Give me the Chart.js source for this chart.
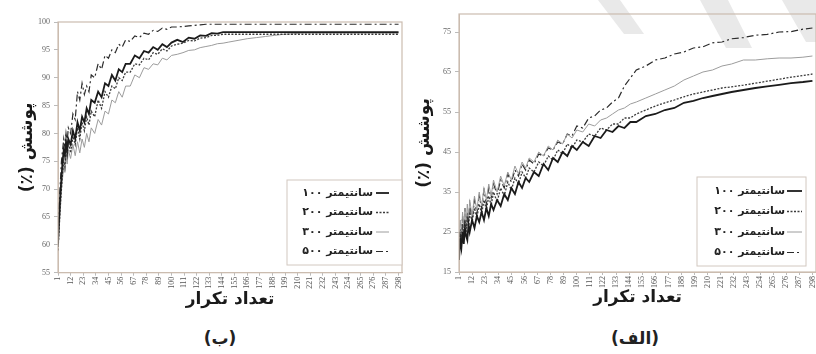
<!DOCTYPE html>
<html>
<head>
<meta charset="utf-8">
<script src="https://cdn.jsdelivr.net/npm/chart.js@4.4.1/dist/chart.umd.min.js"></script>
<style>
  html, body { margin: 0; padding: 0; background: #fff; overflow: hidden; }
  body { width: 816px; height: 354px; position: relative; }
  .panel { position: absolute; top: 0; }
  #panelB { left: 0; }
  #panelA { left: 410px; }
  #marks { position: absolute; left: 0; top: 0; }
  .caption { position: absolute; top: 328px; font: bold 17px "DejaVu Sans"; color: #222; transform: translateX(-50%); white-space: nowrap; }
</style>
</head>
<body>
<!-- faint scan watermark at the top right -->
<svg id="marks" width="816" height="354">
  <polygon points="598,0 620,0 644,34 624,34" fill="#e9e9e9"/>
  <polygon points="700,0 728,0 752,48 726,48" fill="#e9e9e9"/>
  <polygon points="782,0 816,0 816,42 806,42" fill="#e9e9e9"/>
</svg>
<div class="panel" id="panelB"><canvas id="chartB" width="410" height="320"></canvas></div>
<div class="panel" id="panelA"><canvas id="chartA" width="420" height="320"></canvas></div>
<div class="caption" style="left:220px" dir="rtl">(ب)</div>
<div class="caption" style="left:635px" dir="rtl">(الف)</div>
<script>
const iterations = [1, 2, 3, 4, 5, 6, 7, 8, 9, 10,
    12, 14, 16, 18, 20, 22, 24, 26, 28, 30,
    33, 36, 39, 42, 45, 48, 51, 54, 57, 60,
    64, 68, 72, 76, 80, 84, 88, 92, 96, 100,
    105, 110, 115, 120, 125, 130, 135, 140, 145, 150,
    158, 166, 174, 182, 190, 198, 206, 214, 222, 230,
    240, 250, 260, 270, 280, 290, 298];

// x tick labels (every 11 iterations)
const iterationTicks = [1, 12, 23, 34, 45, 56, 67, 78, 89, 100, 111, 122, 133, 144,
    155, 166, 177, 188, 199, 210, 221, 232, 243, 254, 265, 276, 287, 298];

const seriesLabels = ['۱۰۰ سانتیمتر', '۲۰۰ سانتیمتر', '۳۰۰ سانتیمتر', '۵۰۰ سانتیمتر'];

// panel (ب) - coverage %
const coverB100 = [60, 65, 69, 72, 75, 77, 76, 78.5, 77, 79,
    78, 80.5, 79, 82, 80.5, 83, 82, 84.5, 83.5, 86,
    85.5, 87.5, 86.5, 89, 88.5, 90.5, 89.5, 91.5, 91, 92.5,
    92.5, 94, 93.5, 94.8, 94.5, 95.5, 95, 96, 95.5, 96.3,
    96.8, 96.4, 97.2, 97, 97.6, 97.5, 98, 97.9, 98.2, 98.2,
    98.2, 98.2, 98.2, 98.2, 98.2, 98.2, 98.2, 98.2, 98.2, 98.2,
    98.2, 98.2, 98.2, 98.2, 98.2, 98.2, 98.2];
const coverB200 = [59, 63, 67, 70, 73, 75, 74, 77, 76, 78.5,
    76.5, 79.5, 78, 81, 79, 82, 80.5, 83, 81.5, 84,
    83, 86, 84.5, 87.5, 86.5, 88.5, 88, 90, 89.5, 91,
    91, 92.5, 92.3, 93.5, 93.2, 94.5, 94.2, 95.2, 94.8, 95.7,
    96, 96.2, 96.7, 96.6, 97.1, 97.2, 97.6, 97.6, 97.8, 97.8,
    97.8, 97.8, 97.8, 97.8, 97.8, 97.8, 97.8, 97.8, 97.8, 97.8,
    97.8, 97.8, 97.8, 97.8, 97.8, 97.8, 97.8];
const coverB300 = [60, 63, 66, 70, 72, 74, 73, 76, 74.5, 77,
    75.5, 78, 76, 78.5, 76.5, 79, 77.5, 80, 78.5, 81,
    80, 82.5, 81.5, 84, 83.5, 86, 85.5, 87.5, 86.5, 88.5,
    88.5, 90.5, 90, 91.8, 91.5, 92.5, 92.3, 93.5, 93.2, 94,
    94.2, 94.5, 94.9, 95, 95.4, 95.6, 95.8, 96.1, 96.2, 96.4,
    96.7, 97, 97.2, 97.4, 97.6, 97.8, 97.9, 98, 98, 98,
    98, 98, 98, 98, 98, 98, 98];
const coverB500 = [61, 67, 71, 75, 77, 79, 77.5, 80, 78.5, 81,
    80, 83.5, 82.5, 87.5, 86, 89, 87, 88.5, 87.5, 90.5,
    90, 92.5, 91.5, 94, 93.5, 95, 94.5, 96, 95.5, 96.8,
    96.5, 97.5, 97.2, 98, 97.8, 98.5, 98.3, 98.9, 98.7, 99.1,
    99.1, 99.2, 99.3, 99.4, 99.5, 99.6, 99.6, 99.6, 99.6, 99.6,
    99.6, 99.6, 99.6, 99.6, 99.6, 99.6, 99.6, 99.6, 99.6, 99.6,
    99.6, 99.6, 99.6, 99.6, 99.6, 99.6, 99.6];

// panel (الف) - coverage %
const coverA100 = [18, 23, 21, 25, 22, 26, 24, 23, 27, 25,
    28, 26, 29, 27.5, 30, 28, 31, 29, 32, 30.5,
    33, 31.5, 34.5, 33, 36, 34.5, 37.5, 36, 38.5, 37.5,
    40, 39, 42, 40.5, 43.5, 42.5, 45, 44, 46.5, 45.5,
    47.5, 46.5, 49, 48.5, 50.5, 50, 51.5, 51, 52.5, 52.5,
    54, 54.5, 55.5, 56, 57.3, 57.8, 58.5, 59, 59.5, 60,
    60.5, 61, 61.4, 61.8, 62.2, 62.5, 62.8];
const coverA200 = [22, 25, 22, 27, 24, 28, 25, 29, 26, 30,
    27.5, 31, 28.5, 32, 29.5, 33, 30.5, 34, 31.5, 35,
    32.5, 36, 34, 37.5, 35.5, 38.5, 37, 40, 38.5, 41,
    40, 42.5, 41.5, 44, 43, 45.5, 44.5, 47, 46, 48,
    47.5, 49.5, 49, 51, 50.5, 52, 52, 53.5, 53.5, 54.5,
    55.5, 56.5, 57.3, 58, 58.8, 59.5, 60, 60.5, 61, 61.3,
    61.7, 62.2, 62.7, 63.2, 63.7, 64.1, 64.5];
const coverA300 = [25, 28, 24, 30, 26, 31, 27, 32, 28, 33,
    29, 34, 30.5, 35, 31.5, 36, 33, 37, 34, 38,
    35, 39, 36.5, 40, 38, 41.5, 39.5, 42.5, 41, 43.5,
    42.5, 45, 44, 46.5, 45.5, 48, 47, 49.5, 48.5, 50.5,
    50, 52, 51.5, 53, 53.5, 54.5, 55.5, 56, 57, 57.5,
    58.5, 59.5, 60.5, 61.5, 63, 64, 65, 65.5, 66.5, 67,
    68, 68, 68.3, 68.5, 68.5, 68.7, 69];
const coverA500 = [20, 26, 23, 29, 24, 31, 26, 30, 27, 32,
    28, 33, 29.5, 34, 31, 35.5, 32, 36, 33.5, 37,
    34.5, 38, 36, 39.5, 37.5, 40.5, 39, 42, 40.5, 43,
    42, 44.5, 44, 46, 45.5, 47.5, 47, 49.5, 49, 51.5,
    51, 53.5, 54, 55.5, 56, 57.5, 58.5, 61.5, 63.5, 65.5,
    66.5, 68, 68.5, 69.5, 70, 71, 71.3, 72.3, 72.5, 73.3,
    73.6, 74.2, 74.4, 75, 75.1, 75.7, 76];

const yTicksB = [55, 60, 65, 70, 75, 80, 85, 90, 95, 100];
const yTicksA = [15, 25, 35, 45, 55, 65, 75];

// line styles: 100 solid black, 200 dotted, 300 light solid, 500 dash-dot
const lineStyles = [
    { color: '#1b1b1b', width: 1.8, dash: [] },
    { color: '#3c3c3c', width: 1.3, dash: [2, 1.5] },
    { color: '#9c9c9c', width: 1, dash: [] },
    { color: '#2b2b2b', width: 1.2, dash: [7, 3, 2, 3] }
];

const frameColor = '#cbbcb0';
const persianFont = 'DejaVu Sans';

// plot frame + boxed legend inside the plot area
const boxLegend = {
    id: 'boxLegend',
    afterDraw(chart, args, opts) {
        const ctx = chart.ctx;
        const a = chart.chartArea;
        ctx.save();
        ctx.strokeStyle = frameColor;
        ctx.lineWidth = 1.2;
        ctx.strokeRect(a.left, a.top, a.right - a.left, a.bottom - a.top);

        const b = opts.box;
        ctx.fillStyle = '#fff';
        ctx.fillRect(b[0], b[1], b[2] - b[0], b[3] - b[1]);
        ctx.strokeStyle = '#d2c8c0';
        ctx.lineWidth = 1;
        ctx.strokeRect(b[0], b[1], b[2] - b[0], b[3] - b[1]);

        ctx.font = 'bold 11px "' + persianFont + '"';
        ctx.textAlign = 'right';
        ctx.textBaseline = 'middle';
        chart.data.datasets.forEach((ds, i) => {
            const y = opts.firstRow + i * opts.rowStep;
            ctx.fillStyle = '#222';
            ctx.fillText(ds.label, opts.textRight, y);
            ctx.beginPath();
            ctx.setLineDash(ds.borderDash || []);
            ctx.strokeStyle = ds.borderColor;
            ctx.lineWidth = ds.borderWidth;
            ctx.moveTo(opts.lineX[0], y);
            ctx.lineTo(opts.lineX[1], y);
            ctx.stroke();
        });
        ctx.restore();
    }
};

function buildDatasets(seriesList) {
    return seriesList.map((values, i) => ({
        label: seriesLabels[i],
        data: iterations.map((it, k) => ({ x: it, y: values[k] })),
        borderColor: lineStyles[i].color,
        borderWidth: lineStyles[i].width,
        borderDash: lineStyles[i].dash,
        pointRadius: 0,
        tension: 0,
        fill: false
    }));
}

function makeChart(canvasId, seriesList, cfg) {
    const ctx = document.getElementById(canvasId);
    return new Chart(ctx, {
        type: 'line',
        data: { datasets: buildDatasets(seriesList) },
        options: {
            responsive: false,
            animation: false,
            layout: { padding: cfg.padding },
            scales: {
                x: {
                    type: 'linear',
                    min: 1,
                    max: 301,
                    afterBuildTicks: s => { s.ticks = iterationTicks.map(v => ({ value: v })); },
                    afterFit: s => { s.height = cfg.xHeight; },
                    ticks: {
                        autoSkip: false,
                        minRotation: 90,
                        maxRotation: 90,
                        padding: 1,
                        color: '#555',
                        font: { family: 'Liberation Serif', size: 8 }
                    },
                    grid: { drawOnChartArea: false, tickLength: 3, color: '#bbb' },
                    border: { color: frameColor },
                    title: {
                        display: true,
                        text: 'تعداد تکرار',
                        color: '#1a1a1a',
                        padding: 0,
                        font: { family: persianFont, size: 17, weight: 'bold' }
                    }
                },
                y: {
                    min: cfg.yMin,
                    max: cfg.yMax,
                    afterBuildTicks: s => { s.ticks = cfg.yTicks.map(v => ({ value: v })); },
                    afterFit: s => { s.width = cfg.yWidth; },
                    ticks: {
                        padding: 4,
                        color: '#666',
                        font: { family: 'Liberation Serif', size: 8 }
                    },
                    grid: { drawOnChartArea: false, tickLength: 4, color: '#bbb' },
                    border: { color: frameColor },
                    title: {
                        display: true,
                        text: '\u202Bپوشش (٪)\u202C',
                        color: '#1a1a1a',
                        padding: 0,
                        font: { family: persianFont, size: 17, weight: 'bold' }
                    }
                }
            },
            plugins: {
                legend: { display: false },
                tooltip: { enabled: false },
                boxLegend: cfg.legend
            }
        },
        plugins: [boxLegend]
    });
}

makeChart('chartB', [coverB100, coverB200, coverB300, coverB500], {
    padding: { left: 17, top: 22, right: 8, bottom: 9.8 },
    xHeight: 37.5,
    yWidth: 41,
    yMin: 55,
    yMax: 100,
    yTicks: yTicksB,
    legend: { box: [287, 180, 402, 265], firstRow: 193, rowStep: 19.5, textRight: 373, lineX: [376, 389] }
});

makeChart('chartA', [coverA100, coverA200, coverA300, coverA500], {
    padding: { left: 4, top: 14, right: 14, bottom: 11.8 },
    xHeight: 36.2,
    yWidth: 45,
    yMin: 15,
    yMax: 79.5,
    yTicks: yTicksA,
    legend: { box: [287, 177, 396, 266], firstRow: 191, rowStep: 20.5, textRight: 375, lineX: [377, 392] }
});
</script>
</body>
</html>
